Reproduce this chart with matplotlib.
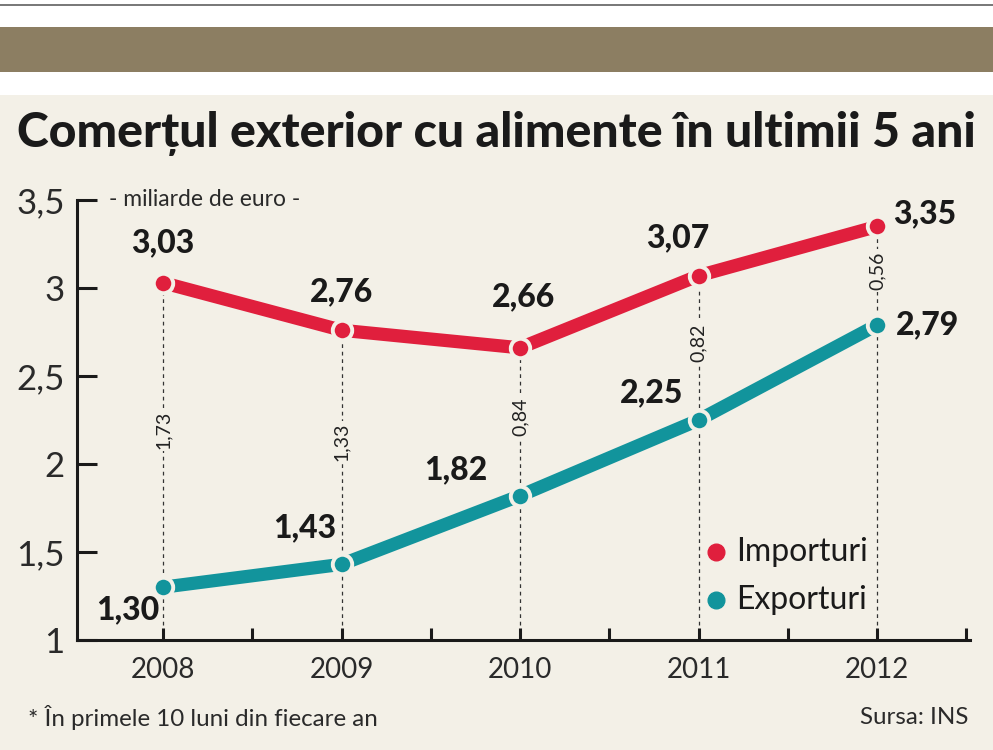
import matplotlib
matplotlib.use("Agg")
import matplotlib.pyplot as plt
from matplotlib.patches import Rectangle
import numpy as np

# Date (miliarde de euro)
ani = [2008, 2009, 2010, 2011, 2012]
importuri = [3.03, 2.76, 2.66, 3.07, 3.35]
exporturi = [1.30, 1.43, 1.82, 2.25, 2.79]
y_ticks = [1, 1.5, 2, 2.5, 3, 3.5]

titlu = "Comerțul exterior cu alimente în ultimii 5 ani"
unitate = "- miliarde de euro -"
nota = "* În primele 10 luni din fiecare an"
sursa = "Sursa: INS"

ROSU = "#e01f3d"
TEAL = "#12949c"
FUNDAL = "#f3f0e7"
MARO = "#8c7e62"
TEXT = "#1a1a1a"
FONT = ["Lato", "DejaVu Sans"]


def virgula(v, dec=2):
    s = f"{v:.{dec}f}" if dec else f"{v:g}"
    return s.replace(".", ",")


fig = plt.figure(figsize=(9.93, 7.5), dpi=100)
fig.patch.set_facecolor("white")

# benzi de sus + fundal bej
fig.patches.append(Rectangle((0, 0), 1, 1 - 95 / 750, transform=fig.transFigure,
                             facecolor=FUNDAL, edgecolor="none", zorder=-10))
fig.patches.append(Rectangle((0, 1 - 72 / 750), 1, 45 / 750, transform=fig.transFigure,
                             facecolor=MARO, edgecolor="none", zorder=-10))
fig.patches.append(Rectangle((0, 1 - 6 / 750), 1, 2 / 750, transform=fig.transFigure,
                             facecolor="#7a7a7a", edgecolor="none", zorder=-10))

# titlul - potrivit pe latime (22..978 px)
t = fig.text(0.5, 1 - 134 / 750, titlu, ha="center", va="center",
             fontsize=30, fontweight="black", family=FONT, color=TEXT)
r = fig.canvas.get_renderer()
w = t.get_window_extent(r).width
t.set_fontsize(30 * 956 / w)

ax = fig.add_axes([77 / 993, 1 - 640 / 750, (970 - 77) / 993, 440 / 750])
ax.set_facecolor("none")
ax.set_xlim(2007.518, 2012.52)
ax.set_ylim(1, 3.5)

# linii verticale punctate
ax.vlines(ani, 1, importuri, colors="#333333", linestyles=(0, (3, 3)), lw=0.9, zorder=1)

dif = np.array(importuri) - np.array(exporturi)
mij = (np.array(importuri) + np.array(exporturi)) / 2 + 0.03
for x, d, m in zip(ani, dif, mij):
    ax.text(x, m, virgula(d), rotation=90, ha="center", va="center", fontsize=14,
            family=FONT, color="#222222",
            bbox=dict(facecolor=FUNDAL, edgecolor="none", pad=1.5), zorder=2)

for vals, col in [(importuri, ROSU), (exporturi, TEAL)]:
    ax.plot(ani, vals, color=col, lw=9.5, solid_capstyle="butt", zorder=3)
    ax.plot(ani, vals, "o", color=col, markersize=14, markeredgecolor=FUNDAL,
            markeredgewidth=2.8, zorder=4)

# etichete valori
off_imp = [(0, 40), (0, 38), (3, 51), (-21, 38), (48, 13)]
off_exp = [(-35, -23), (-37, 37), (-64, 26), (-47, 27), (50, 0)]
for vals, offs in [(importuri, off_imp), (exporturi, off_exp)]:
    for x, v, o in zip(ani, vals, offs):
        ax.annotate(virgula(v), (x, v), xytext=o, textcoords="offset pixels",
                    ha="center", va="center", fontsize=23, fontweight="black",
                    family=FONT, color=TEXT, zorder=5)

# axe
for s in ["top", "right"]:
    ax.spines[s].set_visible(False)
for s in ["left", "bottom"]:
    ax.spines[s].set_linewidth(2.2)
    ax.spines[s].set_color(TEXT)

ax.set_yticks(y_ticks)
ax.set_yticklabels([virgula(t, 0) for t in y_ticks], fontsize=25,
                   family=FONT, color="#2a2a2a")
ax.tick_params(axis="y", direction="in", length=14.5, width=2.2, pad=9, color=TEXT)

ax.set_xticks(ani)
ax.set_xticklabels([str(a) for a in ani], fontsize=20, family=FONT, color="#2a2a2a")
ax.set_xticks([a + 0.5 for a in ani], minor=True)
ax.tick_params(axis="x", which="both", direction="in", length=9, width=2.2,
               pad=12, color=TEXT)

ax.text(2007.70, 3.5, unitate, ha="left", va="center", fontsize=16.5,
        family=FONT, color="#2a2a2a")

# legenda
ax.plot([2011.1], [1.5], "o", color=ROSU, markersize=12, clip_on=False)
ax.plot([2011.1], [1.23], "o", color=TEAL, markersize=12, clip_on=False)
ax.text(2011.21, 1.5, "Importuri", ha="left", va="center", fontsize=23,
        family=FONT, color=TEXT)
ax.text(2011.21, 1.23, "Exporturi", ha="left", va="center", fontsize=23,
        family=FONT, color=TEXT)

fig.text(28 / 993, 1 - 718 / 750, nota, ha="left", va="center", fontsize=17.4,
         family=FONT, color="#2a2a2a")
fig.text(968 / 993, 1 - 718 / 750, sursa, ha="right", va="center", fontsize=17.4,
         family=FONT, color="#2a2a2a")

fig.savefig("out.png", dpi=100, facecolor=fig.get_facecolor())
